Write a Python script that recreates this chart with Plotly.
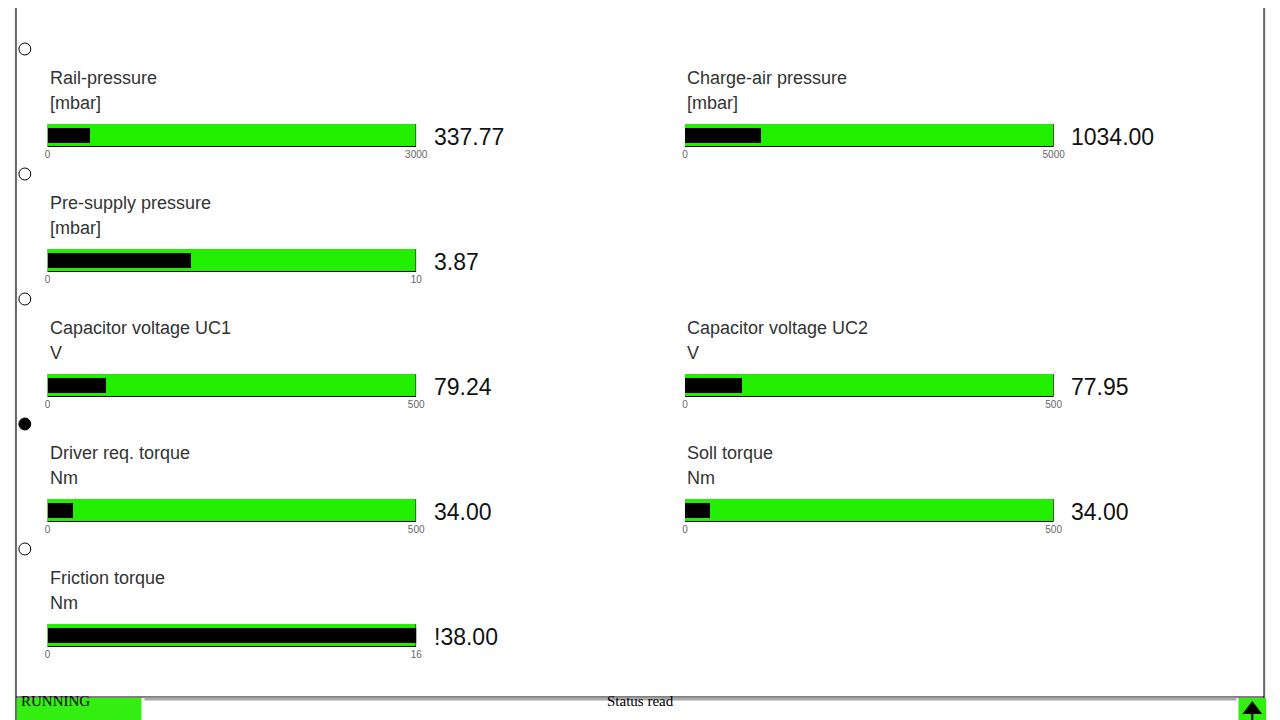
import plotly.graph_objects as go

names = ["Rail-pressure", "Charge-air pressure", "Pre-supply pressure",
         "Capacitor voltage UC1", "Capacitor voltage UC2",
         "Driver req. torque", "Soll torque", "Friction torque"]
units = ["[mbar]", "[mbar]", "[mbar]", "V", "V", "Nm", "Nm", "Nm"]
values = [337.77, 1034.00, 3.87, 79.24, 77.95, 34.00, 34.00, 38.00]
maxima = [3000, 5000, 10, 500, 500, 500, 500, 16]
value_text = ["337.77", "1034.00", "3.87", "79.24", "77.95", "34.00", "34.00", "!38.00"]
cols = [0, 1, 0, 0, 1, 0, 1, 0]
rows = [0, 0, 1, 2, 2, 3, 3, 4]

W, H = 1280, 720
fig = go.Figure()
col_x = [37, 682]
bar_w = 373
row_y = [116, 241, 366, 491, 616]
bh = 23

for i in range(len(names)):
    n = i + 1
    x0 = col_x[cols[i]]; y0 = row_y[rows[i]]
    xa = "x" if n == 1 else f"x{n}"
    ya = "y" if n == 1 else f"y{n}"
    fig.add_trace(go.Bar(x=[maxima[i]], y=[0], orientation="h", width=1,
                         marker=dict(color="#22ee00", line=dict(color="black", width=1)),
                         xaxis=xa, yaxis=ya, hoverinfo="skip", showlegend=False))
    fig.add_trace(go.Bar(x=[min(values[i], maxima[i])], y=[0], orientation="h", width=0.62,
                         marker=dict(color="black", line=dict(width=0)),
                         xaxis=xa, yaxis=ya, hoverinfo="skip", showlegend=False))
    xk = "xaxis" if n == 1 else f"xaxis{n}"
    yk = "yaxis" if n == 1 else f"yaxis{n}"
    fig.layout[xk] = dict(domain=[x0 / W, (x0 + bar_w) / W], range=[0, maxima[i]],
                          anchor=ya, tickvals=[0, maxima[i]], ticktext=["0", str(maxima[i])],
                          tickfont=dict(size=10, color="#666", family="Liberation Sans"),
                          showgrid=False, zeroline=False, showline=False, ticks="", fixedrange=True)
    fig.layout[yk] = dict(domain=[1 - (y0 + bh) / H, 1 - y0 / H], range=[-0.5, 0.5],
                          anchor=xa, visible=False, fixedrange=True)
    for txt, yy, sz, colr in [(names[i], y0 - 46, 18, "#333"), (units[i], y0 - 21, 18, "#333")]:
        fig.add_annotation(x=x0 / W, y=1 - yy / H, xref="paper", yref="paper", text=txt,
                           showarrow=False, xanchor="left", yanchor="middle",
                           font=dict(size=sz, color=colr, family="Liberation Sans"))
    fig.add_annotation(x=(x0 + bar_w + 16) / W, y=1 - (y0 + 13) / H, xref="paper", yref="paper",
                       text=value_text[i], showarrow=False, xanchor="left", yanchor="middle",
                       font=dict(size=23, color="#111", family="Liberation Sans"))

shapes = []
for k, cy in enumerate([41, 166, 291, 416, 541]):
    shapes.append(dict(type="circle", xref="paper", yref="paper",
                       x0=8 / W, x1=20 / W, y0=1 - (cy + 6) / H, y1=1 - (cy - 6) / H,
                       line=dict(color="black", width=1),
                       fillcolor="black" if k == 3 else "white"))
shapes += [
    dict(type="line", xref="paper", yref="paper", x0=5 / W, x1=5 / W, y0=0, y1=1, line=dict(color="#666", width=2)),
    dict(type="line", xref="paper", yref="paper", x0=1268 / W, x1=1268 / W, y0=0, y1=1, line=dict(color="#666", width=2)),
    dict(type="line", xref="paper", yref="paper", x0=5 / W, x1=1268 / W, y0=1 - 689 / H, y1=1 - 689 / H, line=dict(color="black", width=1)),
    dict(type="line", xref="paper", yref="paper", x0=135 / W, x1=1240 / W, y0=1 - 691 / H, y1=1 - 691 / H, line=dict(color="#aaa", width=3)),
    dict(type="rect", xref="paper", yref="paper", x0=6 / W, x1=132 / W, y0=0, y1=1 - 690 / H, fillcolor="#33ee11", line=dict(width=0)),
    dict(type="rect", xref="paper", yref="paper", x0=1242 / W, x1=1270 / W, y0=0, y1=1 - 690 / H, fillcolor="#33ee11", line=dict(width=0)),
    dict(type="line", xref="paper", yref="paper", x0=1256 / W, x1=1256 / W, y0=0, y1=1 - 700 / H, line=dict(color="black", width=2)),
    dict(type="path", xref="paper", yref="paper",
         path=f"M {1246/W},{1-706/H} L {1266/W},{1-706/H} L {1256/W},{1-693/H} Z", fillcolor="black", line=dict(width=0)),
]
fig.add_annotation(x=8 / W, y=1 - 703 / H, xref="paper", yref="paper", text="RUNNING", showarrow=False,
                   xanchor="left", font=dict(size=15, color="black", family="Liberation Sans Narrow"))
fig.add_annotation(x=637 / W, y=1 - 703 / H, xref="paper", yref="paper", text="Status read", showarrow=False,
                   xanchor="center", font=dict(size=15, color="black", family="Liberation Sans Narrow"))

fig.update_layout(width=W, height=H, margin=dict(l=0, r=0, t=0, b=0), barmode="overlay",
                  plot_bgcolor="white", paper_bgcolor="white", shapes=shapes, bargap=0)
fig.write_html("out.html", config={"displayModeBar": False})
